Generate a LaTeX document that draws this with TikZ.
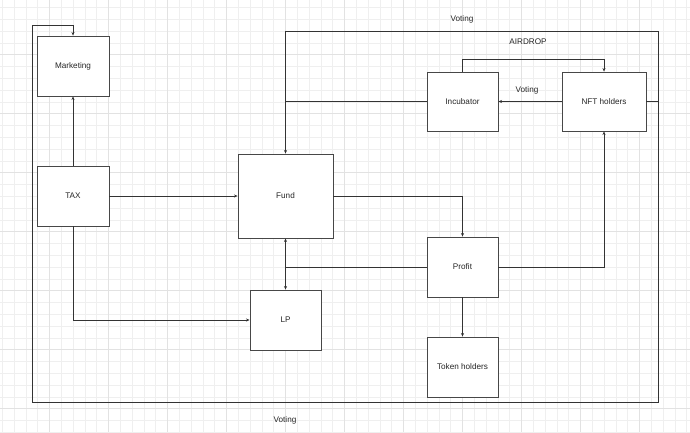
\documentclass[tikz,border=0pt]{standalone}
\usepackage{fontspec}
\setmainfont{Liberation Sans}
\usetikzlibrary{arrows.meta}
\definecolor{gridminor}{HTML}{EFEFEF}
\definecolor{gridmajor}{HTML}{E2E2E2}
\definecolor{ink}{HTML}{333333}
\tikzset{
  box/.style={draw=ink!90!white, line width=0.9bp, fill=white, inner sep=0pt,
    font=\fontsize{8.2}{10}\selectfont, text=black!85},
  conn/.style={draw=ink, line width=0.85bp},
  arr/.style={conn, -{Stealth[length=3.5bp,width=3bp]}},
  loopline/.style={draw=ink, line width=1bp},
  lbl/.style={font=\fontsize{8.2}{10}\selectfont, text=black!85, inner sep=0pt}
}
\begin{document}
\begin{tikzpicture}[x=1bp,y=-1bp]
\useasboundingbox (0,0) rectangle (690,432);
\fill[white] (0,0) rectangle (690,432);
% grid
\foreach \i in {0,...,58} {
  \draw[gridminor, line width=0.8bp] ({2.3+11.8*\i},0) -- ({2.3+11.8*\i},432);
}
\foreach \i in {0,...,36} {
  \draw[gridminor, line width=0.8bp] (0,{7.5+11.8*\i}) -- (690,{7.5+11.8*\i});
}
\foreach \i in {0,...,11} {
  \draw[gridmajor, line width=0.9bp] ({49.5+59*\i},0) -- ({49.5+59*\i},432);
}
\foreach \i in {0,...,7} {
  \draw[gridmajor, line width=0.9bp] (0,{54.7+59*\i}) -- (690,{54.7+59*\i});
}
% nodes
\node[box, minimum width=72bp, minimum height=60bp] (mkt) at (73,66) {Marketing};
\node[box, minimum width=72bp, minimum height=60bp] (tax) at (73,196) {TAX};
\node[box, minimum width=95bp, minimum height=84bp] (fund) at (285.5,196) {Fund};
\node[box, minimum width=71bp, minimum height=60bp] (lp) at (285.5,320) {LP};
\node[box, minimum width=71bp, minimum height=59bp] (inc) at (462.5,101.5) {Incubator};
\node[box, minimum width=84bp, minimum height=59bp] (nft) at (604,101.5) {NFT holders};
\node[box, minimum width=71bp, minimum height=60bp] (profit) at (462.5,267) {Profit};
\node[box, minimum width=71bp, minimum height=60bp] (tok) at (462.5,367) {Token holders};
% loop corners
\coordinate (tr) at (658,31);
\coordinate (br) at (658,402);
\coordinate (bl) at (32,402);
\coordinate (tl) at (32,25);
\coordinate (j) at (285.5,267);
% connectors
\draw[arr] (tax.north) -- (mkt.south);
\draw[arr] (tax.east) -- (fund.west);
\draw[arr] (tax.south) |- (lp.west);
\draw[arr] (fund.east) -| (profit.north);
\draw[conn] (profit.west) -- (j);
\draw[arr] (j) -- (fund.south);
\draw[arr] (j) -- (lp.north);
\draw[arr] (profit.south) -- (tok.north);
\draw[arr] (profit.east) -| (nft.south);
\draw[arr] (nft.west) -- (inc.east);
\draw[arr] (inc.north) -- ++(0,-12) -| (nft.north);
\draw[loopline, -{Stealth[length=3.5bp,width=3bp]}] (nft.east) -- (nft.east -| tr) -- (tr) -- (tr -| fund.north) -- (fund.north);
\draw[loopline] (inc.west) -- (inc.west -| fund.north);
\draw[loopline, -{Stealth[length=3.5bp,width=3bp]}] (nft.east -| tr) -- (br) -- (bl) -- (tl) -- (tl -| mkt.north) -- (mkt.north);
% labels
\node[lbl] (v1) at (462,19) {Voting};
\node[lbl] (air) at (528,42) {AIRDROP};
\node[lbl] (v2) at (527,90) {Voting};
\node[lbl] (v3) at (285,420) {Voting};
\end{tikzpicture}
\end{document}
